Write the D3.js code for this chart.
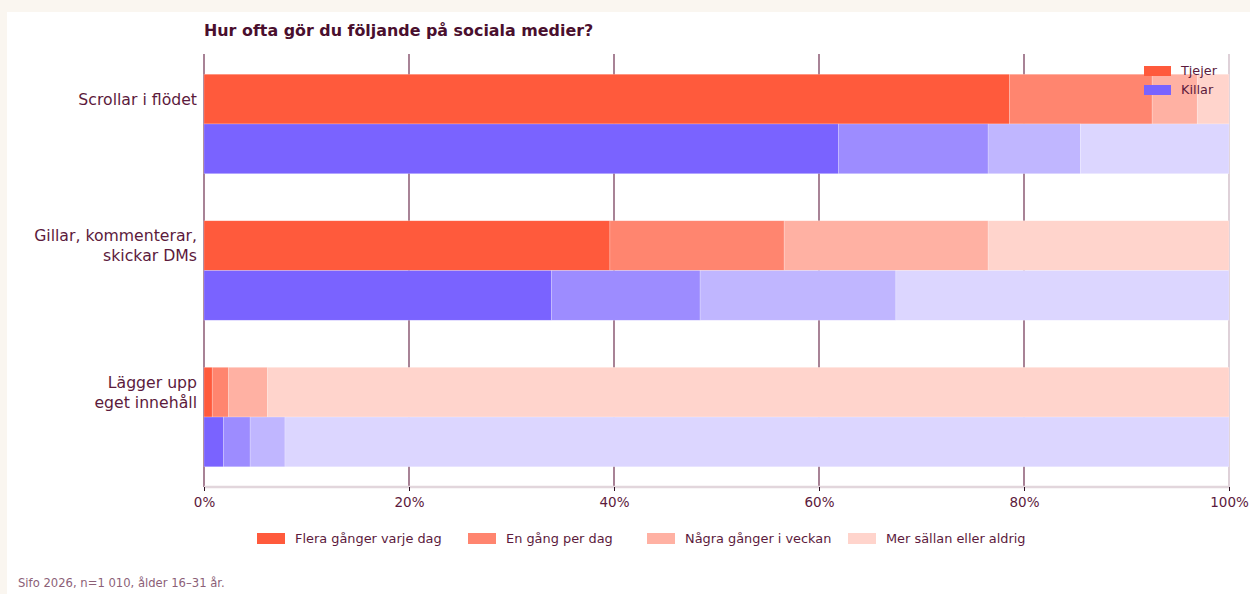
<!DOCTYPE html>
<html>
<head>
<meta charset="utf-8">
<script src="https://cdn.jsdelivr.net/npm/d3@7"></script>
<style>
  body { margin: 0; background: #faf6f0; }
  svg { display: block; font-family: "DejaVu Sans", sans-serif; }
</style>
</head>
<body>
<svg width="1250" height="594"></svg>
<script>
// data
var questions = [
  ["Scrollar i flödet"],
  ["Gillar, kommenterar,", "skickar DMs"],
  ["Lägger upp", "eget innehåll"]
];
var groups = ["Tjejer", "Killar"];
var answers = ["Flera gånger varje dag", "En gång per dag", "Några gånger i veckan", "Mer sällan eller aldrig"];
var tjejerValues = [
  [78.6, 13.9, 4.4, 3.1],
  [39.6, 17.0, 19.9, 23.5],
  [0.8, 1.6, 3.8, 93.8]
];
var killarValues = [
  [61.9, 14.6, 9.0, 14.5],
  [33.9, 14.5, 19.1, 32.5],
  [1.9, 2.6, 3.4, 92.1]
];
var xTicks = [0, 20, 40, 60, 80, 100];

var baseColors = { Tjejer: "#ff5a3c", Killar: "#7a63ff" };
var shadeOpacity = [1, 0.74, 0.47, 0.26];
var textColor = "#5c1a3c";

function shade(base, i) {
  return d3.interpolateRgb("#ffffff", base)(shadeOpacity[i]);
}

var svg = d3.select("svg");

// white panel
svg.append("rect")
  .attr("x", 7).attr("y", 12)
  .attr("width", 1250).attr("height", 600)
  .attr("fill", "#ffffff");

var margin = { top: 54, left: 204, right: 21, bottom: 107 };
var width = 1250, height = 594;

var x = d3.scaleLinear()
  .domain([0, 100])
  .range([margin.left, width - margin.right]);

var qKeys = questions.map(function (d, i) { return i; });
var y = d3.scaleBand()
  .domain(qKeys)
  .range([margin.top, height - margin.bottom])
  .paddingInner(0.321)
  .paddingOuter(0.138);

var y1 = d3.scaleBand()
  .domain(groups)
  .range([0, y.bandwidth()]);

// gridlines
svg.append("g")
  .selectAll("line")
  .data(xTicks)
  .enter().append("line")
  .attr("x1", function (d) { return x(d); })
  .attr("x2", function (d) { return x(d); })
  .attr("y1", margin.top)
  .attr("y2", height - margin.bottom)
  .attr("stroke", function (d) { return d === 100 ? "#c9b3bf" : "#6e3050"; })
  .attr("stroke-width", 1.2);

// bars
var rows = [];
qKeys.forEach(function (q) {
  groups.forEach(function (g) {
    var vals = g === "Tjejer" ? tjejerValues[q] : killarValues[q];
    var acc = 0;
    vals.forEach(function (v, i) {
      rows.push({ q: q, g: g, i: i, x0: acc, x1: acc + v });
      acc += v;
    });
  });
});

svg.append("g")
  .selectAll("rect")
  .data(rows)
  .enter().append("rect")
  .attr("x", function (d) { return x(d.x0); })
  .attr("width", function (d) { return x(d.x1) - x(d.x0); })
  .attr("y", function (d) { return y(d.q) + y1(d.g); })
  .attr("height", y1.bandwidth())
  .attr("fill", function (d) { return shade(baseColors[d.g], d.i); })
  .attr("stroke", "#ffffff")
  .attr("stroke-opacity", 0.35)
  .attr("stroke-width", 0.6);

// x axis
var axisY = height - margin.bottom;
svg.append("line")
  .attr("x1", x(0)).attr("x2", x(100))
  .attr("y1", axisY).attr("y2", axisY)
  .attr("stroke", "#e2d6dc")
  .attr("stroke-width", 2.5);

var xAxis = svg.append("g")
  .attr("transform", "translate(0," + axisY + ")")
  .call(d3.axisBottom(x).tickValues(xTicks).tickSize(4).tickPadding(6)
    .tickFormat(function (d) { return d + "%"; }));
xAxis.select(".domain").remove();
xAxis.selectAll(".tick line").attr("stroke", "#2a1020");
xAxis.selectAll("text")
  .attr("fill", textColor)
  .attr("font-size", 13.5)
  .attr("font-family", "DejaVu Sans, sans-serif");

// question labels
var labels = svg.append("g")
  .selectAll("text")
  .data(qKeys)
  .enter().append("text")
  .attr("x", margin.left - 7)
  .attr("y", function (d) { return y(d) + y1.bandwidth() / 2; })
  .attr("text-anchor", "end")
  .attr("fill", textColor)
  .attr("font-size", 15.7);

labels.each(function (d) {
  var lines = questions[d];
  var t = d3.select(this);
  var lh = 20;
  lines.forEach(function (l, k) {
    t.append("tspan")
      .attr("x", margin.left - 7)
      .attr("y", y(d) + y1.bandwidth() / 2 + (k - (lines.length - 1) / 2) * lh)
      .attr("dy", "0.35em")
      .text(l);
  });
});

// title
svg.append("text")
  .attr("x", margin.left)
  .attr("y", 36)
  .attr("fill", "#4a0f2e")
  .attr("font-size", 15.9)
  .attr("font-weight", "bold")
  .text("Hur ofta gör du följande på sociala medier?");

// group legend (top right)
var gLegend = svg.append("g")
  .selectAll("g")
  .data(groups)
  .enter().append("g")
  .attr("transform", function (d, i) { return "translate(1144," + (66 + i * 19) + ")"; });
gLegend.append("rect")
  .attr("width", 27).attr("height", 10)
  .attr("fill", function (d) { return baseColors[d]; });
gLegend.append("text")
  .attr("x", 37).attr("y", 5).attr("dy", "0.35em")
  .attr("fill", textColor)
  .attr("font-size", 12.8)
  .text(function (d) { return d; });

// answer legend (bottom)
var legendX = [257, 468, 647, 848];
var aLegend = svg.append("g")
  .selectAll("g")
  .data(answers)
  .enter().append("g")
  .attr("transform", function (d, i) { return "translate(" + legendX[i] + ",533)"; });
aLegend.append("rect")
  .attr("width", 28).attr("height", 11)
  .attr("fill", function (d, i) { return shade(baseColors.Tjejer, i); });
aLegend.append("text")
  .attr("x", 38).attr("y", 5.5).attr("dy", "0.35em")
  .attr("fill", textColor)
  .attr("font-size", 12.9)
  .text(function (d) { return d; });

// footer
svg.append("text")
  .attr("x", 18)
  .attr("y", 587)
  .attr("fill", "#8c5f77")
  .attr("font-size", 11.6)
  .text("Sifo 2026, n=1 010, ålder 16–31 år.");
</script>
</body>
</html>
